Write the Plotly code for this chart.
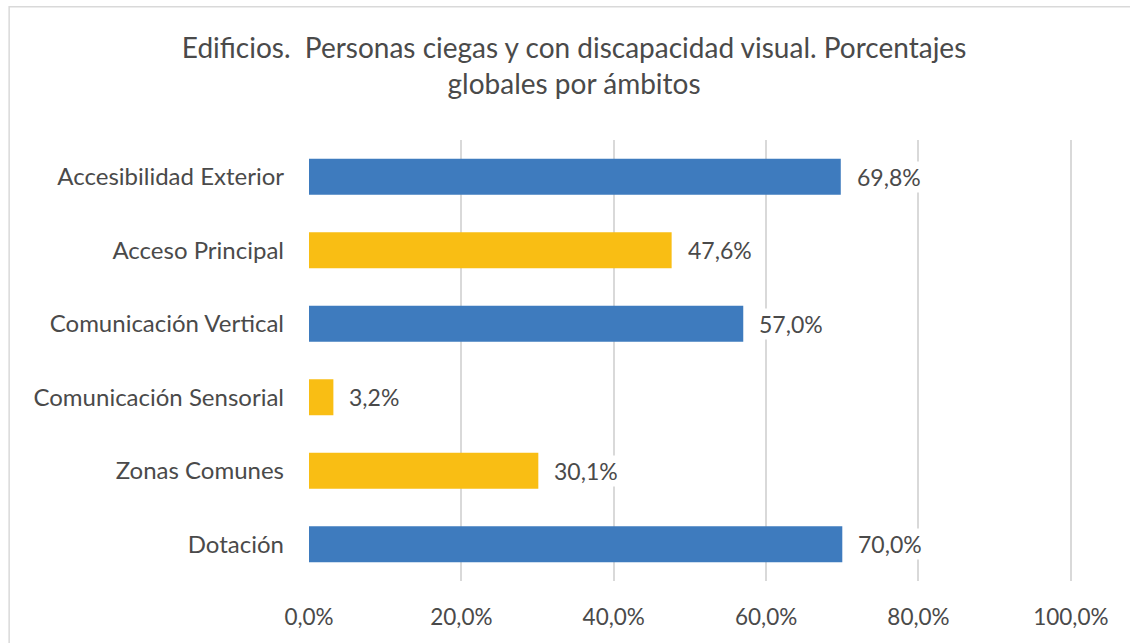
import plotly.graph_objects as go

categories = [
    "Accesibilidad Exterior",
    "Acceso Principal",
    "Comunicación Vertical",
    "Comunicación Sensorial",
    "Zonas Comunes",
    "Dotación",
]
values = [69.8, 47.6, 57.0, 3.2, 30.1, 70.0]
tick_vals = [0, 20, 40, 60, 80, 100]
tick_text = ["0,0%", "20,0%", "40,0%", "60,0%", "80,0%", "100,0%"]

BLUE = "#3E7BBE"
YELLOW = "#F9BE14"
bar_colors = [BLUE, YELLOW, BLUE, YELLOW, YELLOW, BLUE]
TEXT = "#4A4A4A"
FONT = "Lato, 'Open Sans', sans-serif"

fig = go.Figure()

fig.add_trace(
    go.Bar(
        x=values,
        y=categories,
        orientation="h",
        width=0.49,
        marker=dict(color=bar_colors, line=dict(width=0)),
        hovertemplate="%{y}: %{x:.1f}%<extra></extra>",
    )
)

# data labels with white background (they cut the gridlines like in the original)
for cat, val in zip(categories, values):
    fig.add_annotation(
        x=val, y=cat, xref="x", yref="y",
        text=f"{val:.1f}%".replace(".", ","),
        showarrow=False, xanchor="left", xshift=14,
        bgcolor="white", borderpad=1,
        font=dict(family=FONT, size=23, color=TEXT),
    )

# outer chart border (only left/top visible in the crop)
fig.add_shape(
    type="rect", xref="paper", yref="paper",
    x0=-0.393, x1=1.2, y0=-0.3, y1=1.302,
    line=dict(color="#D9D9D9", width=1.5), fillcolor="rgba(0,0,0,0)",
    layer="below",
)

fig.update_layout(
    width=1130,
    height=643,
    margin=dict(l=309, r=58, t=140, b=62),
    paper_bgcolor="white",
    plot_bgcolor="white",
    showlegend=False,
    font=dict(family=FONT, size=22, color=TEXT),
    title=dict(
        text="Edificios.  Personas ciegas y con discapacidad visual. Porcentajes<br>globales por ámbitos",
        x=0.508, xanchor="center", y=0.91, yanchor="top",
        font=dict(family=FONT, size=28, color=TEXT),
    ),
    xaxis=dict(
        range=[0, 100.15],
        tickvals=tick_vals,
        ticktext=tick_text,
        showgrid=True,
        gridcolor="#D9D9D9",
        gridwidth=1.5,
        zeroline=False,
        showline=False,
        ticks="",
        ticklabelstandoff=20,
        tickfont=dict(family=FONT, size=22.5, color=TEXT),
        fixedrange=True,
    ),
    yaxis=dict(
        autorange="reversed",
        showgrid=False,
        zeroline=False,
        showline=False,
        ticks="",
        ticklabelstandoff=24,
        tickfont=dict(family=FONT, size=24, color=TEXT),
        fixedrange=True,
    ),
)

fig.write_html(
    "out.html",
    config={"displayModeBar": False},
    post_script="document.body.style.margin='0';",
)
